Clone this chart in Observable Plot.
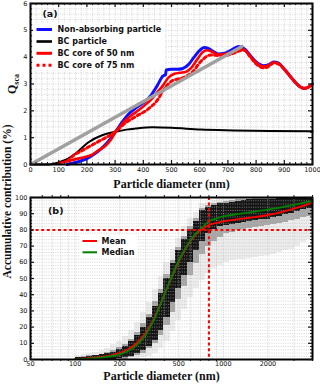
<!DOCTYPE html>
<html><head><meta charset="utf-8">
<script src="https://cdn.jsdelivr.net/npm/d3@7"></script>
<script src="https://cdn.jsdelivr.net/npm/@observablehq/plot@0.6"></script>
<style>
body{margin:0;background:#fff;}
#wrap{width:320px;height:387px;overflow:hidden;position:relative;}
svg{display:block;}
</style></head><body><div id="wrap"></div>
<script>
// ---------- Panel (a) data ----------
const blueD = [130,150,175,200,225,250,275,300,325,350,375,400,425,450,470,479,481,500,520,540,560,580,600,615,630,650,667,690,710,738,760,780,800,827,845,862,880,900,920,940,960,970,985,1000];
const blueQ = [0,0.05,0.12,0.22,0.38,0.58,0.85,1.2,1.58,1.9,2.12,2.3,2.55,2.95,3.3,3.35,3.52,3.55,3.55,3.58,3.72,4.0,4.25,4.36,4.33,4.2,4.12,4.15,4.25,4.4,4.3,4.05,3.82,3.68,3.72,3.82,3.78,3.55,3.3,3.05,2.87,2.84,2.88,3.0];
const redD = [100,130,160,190,219,240,266,285,301,320,337,360,384,410,430,450,470,490,510,530,550,570,590,610,625,640,660,680,700,720,740,760,780,800,827,845,862,880,900,920,940,960,970,985,1000];
const redQ = [0.05,0.12,0.2,0.27,0.37,0.52,0.7,0.92,1.2,1.45,1.65,1.85,2.03,2.25,2.45,2.7,2.95,3.25,3.38,3.42,3.45,3.6,3.9,4.18,4.26,4.22,4.12,4.1,4.15,4.22,4.3,4.25,4.02,3.8,3.65,3.7,3.8,3.76,3.55,3.3,3.05,2.87,2.84,2.88,3.0];
const dotD = [130,154,180,207,240,270,301,337,372,420,450,470,500,544,575,603,638,674,700,721,757,780,800,830,845,862,880,900,920,940,960,970,985,1000];
const dotQ = [0.12,0.35,0.5,0.66,0.85,1.02,1.22,1.55,1.78,2.09,2.4,2.75,3.1,3.25,3.45,3.83,4.08,4.06,4.08,4.15,4.27,4.0,3.75,3.6,3.66,3.78,3.74,3.55,3.3,3.05,2.87,2.84,2.88,3.0];
const blackD = [0,50,80,100,130,160,207,254,301,340,372,432,500,603,721,850,1000];
const blackQ = [0,0,0.02,0.08,0.2,0.41,0.84,1.09,1.22,1.3,1.34,1.39,1.37,1.3,1.27,1.25,1.24];
const grayD = [0,750];
const grayQ = [0,4.4];
const legendA = ["Non-absorbing particle","BC particle","BC core of 50 nm","BC core of 75 nm"];
const aTicksX = [0,100,200,300,400,500,600,700,800,900,1000];
const aTicksY = [0,1,2,3,4,5,6];

// ---------- Panel (b) data ----------
const bD = [100,125,150,175,200,225,250,275,300,350,400,450,500,550,600,650,700,750,800,900,1000,1200,1500,2000,2500,3000,3500,4000];
const medianV = [0.2,0.6,1.2,2,3.2,5,7.5,11,15.5,27,40,51.5,61,68,73.5,77.5,80.5,83,85.3,87,88.3,89.5,90.8,92.5,94,95.5,96.8,98];
const meanV = [0.3,0.8,1.6,2.6,4,6,8.8,12.3,16.5,27.5,40,51,60.5,67.5,73,77,79.5,81.5,83,84.3,85.2,86.3,87.5,89.2,91.2,93.2,95,96.8];
const hEdges = [100,110,120,132,145,158,174,191,209,229,251,275,302,331,363,398,437,479,525,575,631,692,759,832,912,1000,1096,1202,1318,1445,1585,1738,1905,2089,2291,2512,2754,3020,3311,3631,4000];
const coreLo = [0,0,0,0,0,0,0,0.5,1,2,3.5,5.5,8,12,18,26,35,44,52,60,67,73,78,80.5,82,83,83.5,84,84.5,85,85.7,86.3,86.7,87.4,88.3,89.2,90.2,91.1,92.4,93.5];
const coreHi = [1.2,1.5,1.8,2.2,2.8,3.5,4.5,6,8,11,15,20,26,33,41,50,59,67,74,80,85,92,94,95,96,96.5,97,97.5,98,98.5,98.5,99,99,99,99.5,99.5,99.5,100,100,100];
const midLo = [0,0,0,0,0,0,0,0,0,1,2.5,4,6.5,10,15,21,29,37,45,52,59,65,70,73,75.5,77.5,78.5,79.5,80.5,81,81.5,82,82.5,83.2,84,84.7,85.5,86.4,87.6,88.5];
const midHi = [1.5,1.8,2.2,2.6,3.3,4.2,5.5,7.2,9.5,12.5,16.5,22,28,35.5,43.5,52.5,61,69,76,82,87,93,95,96,97,97.5,98,98.5,99,99,99.5,99.5,100,100,100,100,100,100,100,100];
const outLo = [0,0,0,0,0,0,0,0,0,0,0,1,2,4,7,11,17,24,31,38,44,49,53,56,58,60,61,62,62,62.5,63,63.5,64,65,66,67,68,70,72,74];
const outHi = [2.5,3,3.5,4.5,5.5,7,9,11,14,18,23,29,35,43,51,60,68,75,82,87,91,96,97,98,98.5,99,99.5,99.5,100,100,100,100,100,100,100,100,100,100,100,100];
const legendB = ["Mean","Median"];
const bTickLabelsX = [50,100,200,500,1000,2000];
const bMajorX = [100,1000];
const bMinorX = [60,70,80,90,200,300,400,500,600,700,800,900,2000,3000,4000];
const bTicksY = [0,10,20,30,40,50,60,70,80,90,100];
const thresholdV = 80, thresholdD = 800;

const pts = (xs, ys) => xs.map((x, i) => ({x, y: ys[i]}));
const serif = "'Liberation Serif', 'Times New Roman', serif";
const sans = "'DejaVu Sans', sans-serif";
const gridStyle = {stroke: "#b8b8b8", strokeWidth: 0.6, strokeDasharray: "1,1.3"};

function ticks(H, W, xMaj, xMin, yMaj, yMin) {
  const m = [];
  const big = 4, small = 2;
  m.push(Plot.tickX(xMaj, {x: d => d, insetTop: H - big, strokeWidth: 1.2}));
  m.push(Plot.tickX(xMaj, {x: d => d, insetBottom: H - big, strokeWidth: 1.2}));
  m.push(Plot.tickX(xMin, {x: d => d, insetTop: H - small, strokeWidth: 1}));
  m.push(Plot.tickX(xMin, {x: d => d, insetBottom: H - small, strokeWidth: 1}));
  m.push(Plot.tickY(yMaj, {y: d => d, insetRight: W - big, strokeWidth: 1.2}));
  m.push(Plot.tickY(yMaj, {y: d => d, insetLeft: W - big, strokeWidth: 1.2}));
  m.push(Plot.tickY(yMin, {y: d => d, insetRight: W - small, strokeWidth: 1}));
  m.push(Plot.tickY(yMin, {y: d => d, insetLeft: W - small, strokeWidth: 1}));
  return m;
}

// ---------- Panel (a) ----------
const aH = 161, aW = 282;
const aGridX = d3.range(0, 1001, 20);
const aGridY = d3.range(0, 6.01, 0.2).map(v => +v.toFixed(1));
const aMinX = aGridX.filter(v => v % 100 !== 0);
const aMinY = aGridY.filter(v => Math.abs(v - Math.round(v)) > 1e-6);

const plotA = Plot.plot({
  width: 320, height: 193,
  marginLeft: 30, marginRight: 8, marginTop: 3, marginBottom: 29,
  x: {domain: [0, 1000]},
  y: {domain: [0, 6]},
  style: {fontFamily: sans, fontSize: "6.5px", color: "#111", background: "transparent", overflow: "visible"},
  marks: [
    Plot.ruleX(aGridX, {x: d => d, ...gridStyle}),
    Plot.ruleY(aGridY, {y: d => d, ...gridStyle}),
    Plot.line(pts(blueD, blueQ), {x: "x", y: "y", stroke: "#1010ff", strokeWidth: 3, curve: "monotone-x"}),
    Plot.line(pts(blackD, blackQ), {x: "x", y: "y", stroke: "#000", strokeWidth: 2, curve: "monotone-x"}),
    Plot.line(pts(redD, redQ), {x: "x", y: "y", stroke: "#ff0000", strokeWidth: 2.6, curve: "monotone-x"}),
    Plot.line(pts(dotD, dotQ), {x: "x", y: "y", stroke: "#ff0000", strokeWidth: 3, strokeDasharray: "3,3", curve: "monotone-x"}),
    Plot.line(pts(grayD, grayQ), {x: "x", y: "y", stroke: "#a0a0a0", strokeWidth: 3.5}),
    Plot.frame({stroke: "#000", strokeWidth: 2}),
    ...ticks(aH, aW, aTicksX, aMinX, aTicksY, aMinY),
    Plot.axisX({ticks: aTicksX, tickSize: 0, tickPadding: 3, label: null, tickFormat: d => String(d)}),
    Plot.axisY({ticks: aTicksY, tickSize: 0, tickPadding: 3, label: null, tickFormat: d => String(d)}),
    Plot.text(["Particle diameter (nm)"], {text: d => d, frameAnchor: "bottom", dy: 23, fontFamily: serif, fontWeight: "bold", fontSize: 12, fill: "#111"})
  ]
});

// ---------- Panel (b) ----------
const bH = 166, bW = 282;
const bins = hEdges.slice(0, -1).map((e, i) => ({x1: e, x2: hEdges[i + 1], cl: coreLo[i], ch: coreHi[i], ml: midLo[i], mh: midHi[i], ol: outLo[i], oh: outHi[i]}));
const bGridX = [60,70,80,90,100,200,300,400,500,600,700,800,900,1000,2000,3000,4000];
const bGridY = d3.range(0, 101, 2);
const bMinY = bGridY.filter(v => v % 10 !== 0);

const plotB = Plot.plot({
  width: 320, height: 194,
  marginLeft: 30, marginRight: 8, marginTop: 4, marginBottom: 28,
  x: {type: "log", domain: [50, 4000]},
  y: {domain: [0, 100]},
  style: {fontFamily: sans, fontSize: "6.5px", color: "#111", background: "transparent", overflow: "visible"},
  marks: [
    Plot.rect(bins, {x1: "x1", x2: "x2", y1: "ol", y2: "oh", fill: "#ececec", shapeRendering: "crispEdges"}),
    Plot.rect(bins, {x1: "x1", x2: "x2", y1: "ml", y2: "mh", fill: "#a6a6a6", shapeRendering: "crispEdges"}),
    Plot.rect(bins, {x1: "x1", x2: "x2", y1: "cl", y2: "ch", fill: "#151515", shapeRendering: "crispEdges"}),
    Plot.ruleX(bGridX, {x: d => d, ...gridStyle}),
    Plot.ruleY(bGridY, {y: d => d, ...gridStyle}),
    Plot.line(pts(bD, meanV), {x: "x", y: "y", stroke: "#ff0000", strokeWidth: 1.8, curve: "monotone-x"}),
    Plot.line(pts(bD, medianV), {x: "x", y: "y", stroke: "#008000", strokeWidth: 1.8, curve: "monotone-x"}),
    Plot.ruleY([thresholdV], {y: d => d, stroke: "#ff0000", strokeWidth: 2, strokeDasharray: "3,2.6"}),
    Plot.ruleX([thresholdD], {x: d => d, stroke: "#ff0000", strokeWidth: 2, strokeDasharray: "3,2.6"}),
    Plot.frame({stroke: "#000", strokeWidth: 2}),
    ...ticks(bH, bW, bMajorX, bMinorX, bTicksY, bMinY),
    Plot.axisX({ticks: bTickLabelsX, tickSize: 0, tickPadding: 2, label: null, tickFormat: d => String(d)}),
    Plot.axisY({ticks: bTicksY, tickSize: 0, tickPadding: 3, label: null, tickFormat: d => String(d)}),
    Plot.text(["Particle diameter (nm)"], {text: d => d, frameAnchor: "bottom", dy: 20, dx: -10, fontFamily: serif, fontWeight: "bold", fontSize: 12, fill: "#111"}),
    Plot.text(["Accumulative contribution (%)"], {text: d => d, frameAnchor: "left", dx: -23, rotate: -90, fontFamily: serif, fontWeight: "bold", fontSize: 11.5, fill: "#111"})
  ]
});

const wrap = document.getElementById("wrap");
wrap.appendChild(plotA);
wrap.appendChild(plotB);

// ---------- Legends, panel tags, Q_sca label ----------
function label(sel, x, y, txt, size) {
  return sel.append("text").attr("x", x).attr("y", y).attr("dy", "0.35em").attr("text-anchor", "start")
    .style("font-family", sans).style("font-weight", "bold").style("font-size", size + "px").attr("fill", "#111")
    .text(txt);
}
const sA = d3.select(plotA);
sA.append("rect").attr("x", 33).attr("y", 23).attr("width", 132).attr("height", 47).attr("fill", "#fff");
const legA = [
  {y: 29.5, stroke: "#1010ff", w: 3, dash: null},
  {y: 41.5, stroke: "#000", w: 2.6, dash: null},
  {y: 53.3, stroke: "#ff0000", w: 3, dash: null},
  {y: 65.2, stroke: "#ff0000", w: 3, dash: "3,3"}
];
legA.forEach((l, i) => {
  const ln = sA.append("line").attr("x1", 36.5).attr("x2", 52).attr("y1", l.y).attr("y2", l.y)
    .attr("stroke", l.stroke).attr("stroke-width", l.w);
  if (l.dash) ln.attr("stroke-dasharray", l.dash);
  label(sA, 57.5, l.y, legendA[i], 8);
});
label(sA, 42.5, 13.5, "(a)", 9.5);
const q = sA.append("text").attr("transform", "translate(16,84) rotate(-90)").attr("text-anchor", "middle")
  .style("font-family", serif).style("font-weight", "bold").style("font-size", "12px").attr("fill", "#111");
q.append("tspan").text("Q");
q.append("tspan").attr("dy", 3).style("font-size", "8px").text("sca");

const sB = d3.select(plotB);
sB.append("rect").attr("x", 80).attr("y", 42).attr("width", 57).attr("height", 22).attr("fill", "#fff");
[{y: 48, stroke: "#ff0000"}, {y: 59.3, stroke: "#008000"}].forEach((l, i) => {
  sB.append("line").attr("x1", 82.5).attr("x2", 97).attr("y1", l.y).attr("y2", l.y)
    .attr("stroke", l.stroke).attr("stroke-width", 2);
  label(sB, 101.5, l.y, legendB[i], 8);
});
label(sB, 48, 17.7, "(b)", 9.5);
</script></body></html>
